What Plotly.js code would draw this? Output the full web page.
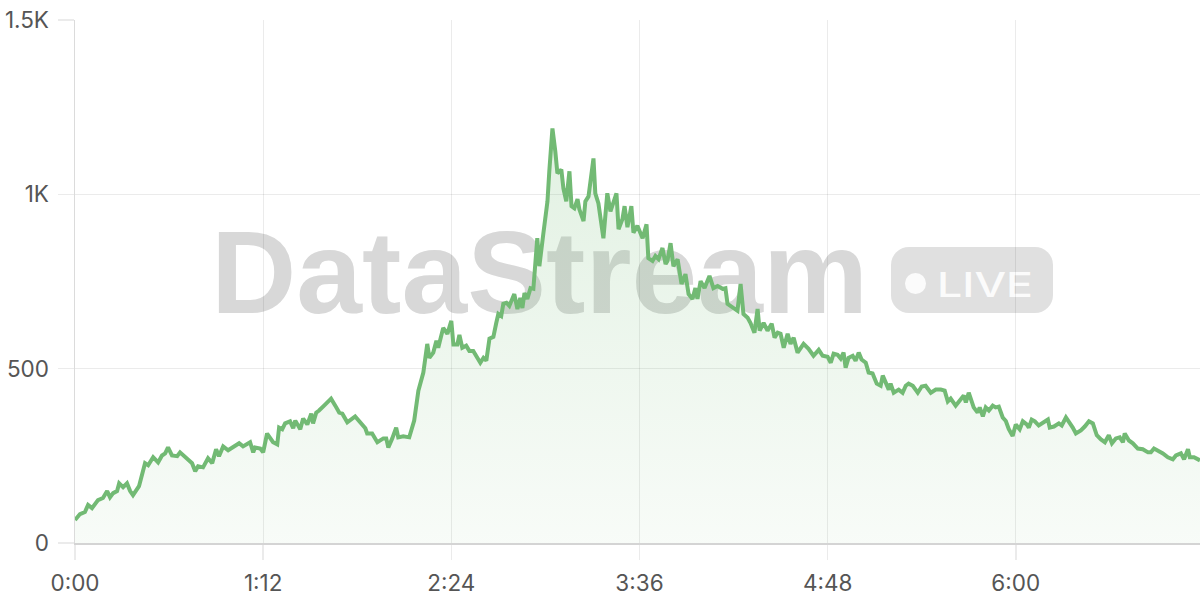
<!DOCTYPE html>
<html>
<head>
<meta charset="utf-8">
<script src="https://cdn.plot.ly/plotly-3.0.1.min.js"></script>
<style>
html, body { margin: 0; padding: 0; background: #ffffff; }
#wrap { position: relative; width: 1200px; height: 600px; overflow: hidden; }
#wm { position: absolute; left: 0; top: 0; z-index: 0; }
#chart { position: absolute; left: 0; top: 0; width: 1200px; height: 600px; z-index: 1; }
</style>
</head>
<body>
<div id="wrap">
  <svg id="wm" width="1200" height="600" xmlns="http://www.w3.org/2000/svg">
    <text x="211" y="313" font-family="Liberation Sans, Arial, sans-serif" font-weight="700" font-size="116" fill="#d8d8d8" textLength="657" lengthAdjust="spacingAndGlyphs">DataStream</text>
    <rect x="891" y="247" width="162" height="66" rx="18" ry="18" fill="#e0e0e0"/>
    <circle cx="915.5" cy="283.5" r="10.5" fill="#fbfbfb"/>
    <text x="937" y="296.5" font-family="Inter, Liberation Sans, sans-serif" font-weight="500" font-size="34" fill="#fbfbfb" textLength="96" lengthAdjust="spacingAndGlyphs">LIVE</text>
  </svg>
  <div id="chart"></div>
</div>
<script>
// Elapsed time (minutes) of each sample
const minutes = [
  0,1.9,3.8,5.0,6.5,8.8,10.7,12.3,13.4,14.6,16.1,16.9,18.4,19.9,21.1,22.2,24.5,26.8,28.0,29.9,31.8,33.3,34.5,35.6,37.1,39.1,40.2,42.1,44.8,46.0,47.1,49.0,50.9,52.5,54.0,55.1,56.7,58.6,60.5,62.8,64.3,67.0,68.2,68.9,70.9,72.0,73.5,
  75.8,77.4,78.1,79.3,80.4,82.3,83.5,84.3,86.2,87.3,88.9,90.4,91.1,92.3,93.4,95.7,98.0,99.6,101.1,102.3,104.2,107.2,109.1,111.1,111.8,113.7,115.7,118.0,119.1,119.9,121.4,122.9,123.7,125.6,127.9,129.8,
  131.4,133.3,134.8,135.6,137.1,138.3,139.0,140.9,142.5,144.0,144.8,146.3,147.1,148.2,149.7,150.9,152.4,154.0,155.1,156.3,157.4,158.6,160.1,161.2,162.0,163.1,163.9,165.1,166.2,168.1,169.3,170.4,171.2,172.0,173.1,174.3,175.4,
  176.9,177.7,179.2,180.8,181.5,182.7,183.8,184.6,186.1,186.9,188.0,189.2,190.0,191.1,192.3,193.0,194.6,195.3,196.5,198.4,199.1,200.3,202.2,203.7,204.9,206.0,207.2,208.0,209.5,210.3,211.4,212.9,213.7,215.2,
  217.2,218.7,219.4,221.0,222.1,223.3,224.8,226.0,226.7,227.9,229.0,230.6,232.1,233.6,234.8,236.3,237.4,238.2,239.4,240.9,242.8,244.3,245.9,247.8,248.9,249.7,
  252.0,253.5,254.7,255.8,257.4,258.5,260.0,261.2,262.0,263.5,265.0,266.6,267.7,268.9,270.0,271.2,272.7,273.8,275.0,276.5,278.8,280.7,282.6,284.6,286.1,
  288.0,289.2,290.3,291.8,293.0,294.1,294.9,296.0,297.6,298.7,299.9,301.0,302.6,303.7,305.2,306.8,308.3,309.1,310.2,311.4,312.1,313.3,315.2,316.7,317.9,319.0,320.6,322.5,324.0,325.5,327.5,329.4,331.3,332.8,
  334.0,335.1,337.0,338.6,340.1,340.9,342.0,343.9,345.4,346.2,347.4,348.5,349.7,351.2,352.3,353.5,355.0,356.2,357.3,358.8,
  360.0,361.5,362.7,364.2,365.0,366.1,367.3,368.8,370.7,372.3,373.0,374.6,376.5,377.6,379.2,380.3,381.8,383.0,384.9,386.4,388.0,389.5,
  391.0,392.6,394.1,395.6,396.8,398.3,399.8,401.0,401.7,403.3,404.8,406.7,408.6,410.6,411.7,412.9,414.4,416.3,418.2,420.1,421.3,423.2,424.4,425.9,426.6,428.2,430.5
];

// Live viewer count at each sample
const viewers = [
  66,83,89,109,100,123,129,149,131,143,149,171,160,171,149,137,163,229,223,246,231,251,257,274,251,249,260,246,229,206,220,217,243,229,269,249,277,266,274,286,277,289,260,274,271,260,314,
  289,283,331,326,343,349,329,351,326,357,340,371,343,374,380,397,414,394,374,371,346,363,346,329,314,314,289,300,300,274,300,331,303,306,303,351,
  437,489,571,531,546,580,560,617,600,637,569,569,597,560,566,551,551,531,517,531,523,586,591,631,657,651,686,689,680,714,671,703,674,717,700,731,729,
  874,794,886,980,1066,1189,1123,1060,1071,1017,980,1066,966,960,986,957,923,980,994,1103,1003,974,874,1003,951,974,1003,900,929,966,906,966,890,910,
  874,914,817,809,823,814,846,800,809,860,794,814,743,771,714,700,731,700,751,731,766,731,737,729,731,686,
  674,666,743,657,646,631,603,671,609,631,609,629,589,603,600,560,600,571,589,546,571,557,537,554,537,
  534,517,543,540,529,546,503,531,537,523,546,526,517,489,486,457,451,480,457,440,457,431,440,431,451,457,451,431,449,451,431,440,440,437,
  406,414,394,409,423,403,431,389,374,389,363,389,380,394,389,391,360,350,327,307,
  340,326,349,340,331,354,349,337,346,354,331,334,343,337,360,349,331,314,323,334,349,343,
  309,297,289,309,286,300,303,289,314,294,286,271,269,260,260,271,266,257,246,240,251,257,240,269,246,246,237
];

const xTickVals = [0, 72, 144, 216, 288, 360];
const xTickText = ['0:00', '1:12', '2:24', '3:36', '4:48', '6:00'];
const yTickVals = [0, 500, 1000, 1500];
const yTickText = ['0', '500', '1K', '1.5K'];

const lineColor = '#72ba74';

const trace = {
  x: minutes,
  y: viewers,
  type: 'scatter',
  mode: 'lines',
  line: { color: lineColor, width: 4, shape: 'linear' },
  fill: 'tozeroy',
  fillgradient: {
    type: 'vertical',
    start: 0,
    stop: 1200,
    colorscale: [[0, 'rgba(108,184,110,0.05)'], [1, 'rgba(108,184,110,0.2)']]
  },
  hoverinfo: 'skip'
};

const tickFont = { family: 'Inter, "Open Sans", sans-serif', size: 22.5, color: '#555555' };

const layout = {
  width: 1200,
  height: 600,
  margin: { l: 75, r: 0, t: 20, b: 57, pad: 0 },
  paper_bgcolor: 'rgba(0,0,0,0)',
  plot_bgcolor: 'rgba(0,0,0,0)',
  showlegend: false,
  xaxis: {
    range: [0, 430.5],
    tickmode: 'array',
    tickvals: xTickVals,
    ticktext: xTickText,
    showgrid: true,
    gridcolor: 'rgba(0,0,0,0.08)',
    gridwidth: 1,
    zeroline: false,
    showline: true,
    linecolor: 'rgba(0,0,0,0.17)',
    linewidth: 2,
    ticks: 'outside',
    ticklen: 15,
    tickwidth: 1.5,
    tickcolor: 'rgba(0,0,0,0.08)',
    ticklabelstandoff: 4,
    tickfont: tickFont,
    fixedrange: true
  },
  yaxis: {
    range: [0, 1500],
    tickmode: 'array',
    tickvals: yTickVals,
    ticktext: yTickText,
    showgrid: true,
    gridcolor: 'rgba(0,0,0,0.08)',
    gridwidth: 1,
    zeroline: false,
    showline: true,
    linecolor: 'rgba(0,0,0,0.14)',
    linewidth: 1.5,
    ticks: 'outside',
    ticklen: 16,
    tickwidth: 1.5,
    tickcolor: 'rgba(0,0,0,0.08)',
    ticklabelstandoff: 4,
    tickfont: tickFont,
    fixedrange: true
  }
};

Plotly.newPlot('chart', [trace], layout, { displayModeBar: false, staticPlot: true });
</script>
</body>
</html>
